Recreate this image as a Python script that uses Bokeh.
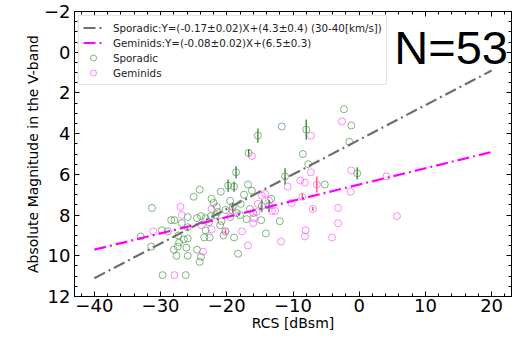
from bokeh.plotting import figure
from bokeh.models import (Range1d, LinearAxis, FixedTicker, Label, Legend,
                          LegendItem)
from bokeh.embed import file_html
from bokeh.resources import INLINE

# ---------------- data ----------------
spor_x = [-15.3, -16.7, -11.7, -8.0, -8.5, -7.7, -18.6, -11.2, -5.2, -2.3,
          -1.2, -1.5, -0.3, -24.1, -20.9, -19.8, -18.9, -16.8, -16.2, -17.4,
          -17.9, -19.1, -13.3, -13.6, -14.7, -17.0, -14.8, -12.0, -18.9, -14.1,
          -18.3, -25.0, -22.3, -31.3, -27.9, -28.4, -25.9, -26.8, -24.5, -23.9,
          -23.2, -22.4, -21.7, -22.7, -23.2, -20.2, -29.8, -28.9, -33.0, -27.3,
          -26.5, -25.9, -27.4, -31.4, -28.0, -26.1, -24.5, -27.6, -25.9, -23.9,
          -24.1, -29.7, -26.2, -25.9, -22.6, -23.4, -20.2, -21.4, -27.2, -21.0,
          -19.5, -18.0, -20.5, -16.0, -19.5, -18.5, -21.5, -16.5, -20.8, -22.0]
spor_y = [4.1, 4.95, 3.65, 3.8, 5.0, 5.5, 5.9, 6.1, 6.5, 2.8,
          3.6, 4.4, 5.95, 6.75, 6.85, 6.55, 6.6, 6.5, 6.8, 7.0,
          7.45, 7.6, 7.2, 7.55, 7.55, 8.2, 8.25, 8.3, 9.1, 8.9,
          9.9, 7.1, 7.2, 7.65, 8.25, 8.25, 8.1, 8.4, 8.15, 8.05,
          8.15, 8.05, 8.0, 8.35, 8.75, 8.8, 8.75, 8.8, 9.05, 9.0,
          9.2, 9.15, 9.55, 9.55, 9.7, 9.6, 9.7, 10.0, 10.0, 10.05,
          10.3, 10.95, 10.95, 8.6, 9.1, 9.1, 7.75, 7.85, 9.35, 8.5,
          8.1, 8.0, 9.0, 7.9, 7.3, 7.9, 7.6, 7.7, 8.3, 7.4]
spor_err = [0.35, 0.2, 0, 0.5, 0, 0, 0.3, 0.4, 0, 0,
            0, 0, 0.3, 0, 0, 0.3, 0.25, 0, 0, 0,
            0, 0.2, 0, 0.3, 0.3, 0, 0, 0, 0, 0,
            0, 0, 0, 0, 0, 0, 0, 0, 0, 0,
            0, 0, 0, 0, 0, 0, 0, 0, 0, 0,
            0, 0, 0, 0, 0, 0, 0, 0, 0, 0,
            0, 0, 0, 0, 0, 0, 0, 0, 0, 0,
            0, 0, 0, 0, 0, 0, 0, 0, 0, 0]

gem_x = [-16.2, -7.3, -7.3, -8.9, -8.2, -10.8, -6.4, -2.6, -1.2, 4.1,
         -1.3, -3.2, 5.7, -3.2, -4.1, -10.2, -8.6, -7.0, -8.1, -8.2,
         -11.8, -14.7, -15.3, -15.9, -17.7, -16.8, -19.1, -13.2, -12.7, -13.6,
         -27.0, -26.8, -23.8, -22.3, -31.1, -23.6, -27.9, -20.2, -15.5, -14.2,
         -22.3, -16.0]
gem_y = [5.1, 4.1, 5.9, 6.3, 6.4, 6.6, 6.5, 3.4, 5.8, 6.1,
         6.85, 7.65, 8.05, 8.4, 9.1, 7.4, 7.1, 7.7, 8.75, 9.05,
         9.3, 7.05, 7.45, 8.15, 8.8, 9.5, 7.8, 7.8, 7.8, 7.3,
         7.6, 8.0, 8.5, 8.7, 8.8, 9.8, 10.95, 8.8, 7.85, 6.95,
         7.7, 8.4]
gem_err = [0, 0, 0, 0, 0, 0, 0.4, 0, 0, 0,
           0, 0, 0, 0, 0, 0, 0.15, 0.1, 0, 0,
           0, 0, 0, 0, 0, 0, 0.1, 0, 0, 0,
           0, 0, 0, 0, 0, 0, 0, 0.1, 0, 0,
           0, 0]

fit_x = [-40, 20]
spor_fit = [11.1, 0.9]
gem_fit = [9.7, 4.9]

spor_label = "Sporadic:Y=(-0.17\u00b10.02)X+(4.3\u00b10.4) (30-40[km/s])"
gem_label = "Geminids:Y=(-0.08\u00b10.02)X+(6.5\u00b10.3)"

x_major = [-40, -30, -20, -10, 0, 10, 20]
y_major = [-2, 0, 2, 4, 6, 8, 10, 12]

FONT = "DejaVu Sans"

p = figure(width=517, height=334, output_backend="svg", toolbar_location=None,
           x_range=Range1d(-43, 23), y_range=Range1d(12, -2),
           min_border_left=74, min_border_right=6, min_border_top=11,
           min_border_bottom=38, background_fill_color="white",
           border_fill_color="white")
p.grid.visible = False
p.outline_line_color = "black"
p.outline_line_width = 1

x_minor = [float(v) for v in range(-42, 24, 2)]
y_minor = [v * 0.5 for v in range(-4, 25)]
xt = FixedTicker(ticks=x_major, minor_ticks=x_minor)
yt = FixedTicker(ticks=y_major, minor_ticks=y_minor)


def style(ax, ticker, labels):
    ax.ticker = ticker
    ax.major_tick_in = 5
    ax.major_tick_out = 0
    ax.minor_tick_in = 3
    ax.minor_tick_out = 0
    ax.axis_line_color = "black"
    ax.major_tick_line_color = "black"
    ax.minor_tick_line_color = "black"
    if labels:
        ax.major_label_text_font = FONT
        ax.major_label_text_font_size = "18px"
        ax.major_label_text_color = "black"
        ax.axis_label_text_font = FONT
        ax.axis_label_text_font_size = "14px"
        ax.axis_label_text_font_style = "normal"
        ax.axis_label_text_color = "black"
    else:
        ax.major_label_text_font_size = "1px"
        ax.major_label_text_color = None
        ax.major_label_text_alpha = 0
        ax.major_label_standoff = 0
        ax.axis_label = None


style(p.xaxis[0], xt, True)
style(p.yaxis[0], yt, True)
p.xaxis[0].major_label_overrides = {v: str(v).replace("-", "\u2212") for v in x_major}
p.yaxis[0].major_label_overrides = {v: str(v).replace("-", "\u2212") for v in y_major}
p.xaxis[0].axis_label = "RCS [dBsm]"
p.yaxis[0].axis_label = "Absolute Magnitude in the V-band"
p.xaxis[0].major_label_standoff = 2
p.xaxis[0].axis_label_standoff = 0
p.yaxis[0].major_label_standoff = 4
p.yaxis[0].axis_label_standoff = 0

top = LinearAxis()
style(top, xt, False)
p.add_layout(top, "above")
right = LinearAxis()
style(right, yt, False)
p.add_layout(right, "right")

# error bars
sx0, sy0, sy1 = [], [], []
for x, y, e in zip(spor_x, spor_y, spor_err):
    if e > 0:
        sx0.append(x); sy0.append(y - e); sy1.append(y + e)
p.segment(x0=sx0, y0=sy0, x1=sx0, y1=sy1, line_color="#2a8a2a", line_width=1.3)
gx0, gy0, gy1 = [], [], []
for x, y, e in zip(gem_x, gem_y, gem_err):
    if e > 0:
        gx0.append(x); gy0.append(y - e); gy1.append(y + e)
p.segment(x0=gx0, y0=gy0, x1=gx0, y1=gy1, line_color="#ff4a4a", line_width=1.3)

r_s = p.scatter(spor_x, spor_y, marker="circle", size=7, fill_color=None,
                line_color="#3c8f3c", line_alpha=0.65, line_width=1)
r_g = p.scatter(gem_x, gem_y, marker="circle", size=7, fill_color=None,
                line_color="#ff55ff", line_alpha=0.7, line_width=1)

r_l1 = p.line(fit_x, spor_fit, line_color="#6e6e6e", line_width=2.2,
              line_dash="12 4 2 4")
r_l2 = p.line(fit_x, gem_fit, line_color="#ff00ff", line_width=2.2,
              line_dash="12 4 2 4")

legend = Legend(items=[
    LegendItem(label=spor_label, renderers=[r_l1]),
    LegendItem(label=gem_label, renderers=[r_l2]),
    LegendItem(label="Sporadic", renderers=[r_s]),
    LegendItem(label="Geminids", renderers=[r_g]),
], location="top_left")
legend.label_text_font = FONT
legend.label_text_font_size = "10.3px"
legend.label_text_color = "#222222"
legend.label_height = 15
legend.glyph_height = 15
legend.glyph_width = 20
legend.label_standoff = 10
legend.spacing = 0
legend.padding = 4
legend.margin = 4
legend.border_line_color = "#cccccc"
legend.background_fill_alpha = 0.85
p.add_layout(legend)

p.add_layout(Label(x=5.3, y=-0.25, text="N=53", text_font="Liberation Sans",
                   text_font_size="47px", text_color="black",
                   text_baseline="alphabetic"))

open("out.html", "w").write(file_html(p, INLINE))
